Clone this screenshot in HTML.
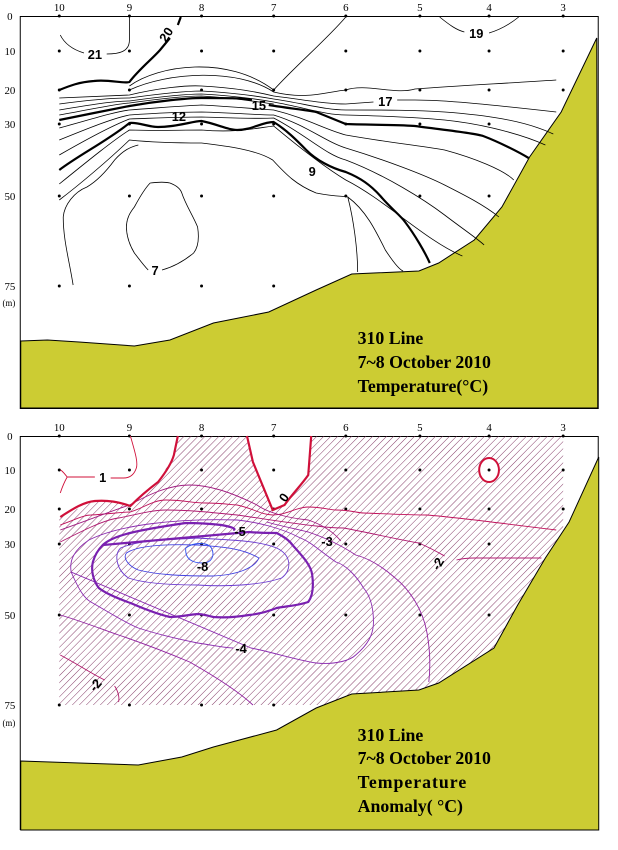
<!DOCTYPE html>
<html><head><meta charset="utf-8"><style>
body{margin:0;background:#fff;width:618px;height:850px;overflow:hidden}
svg{display:block}
.ax{font-family:"Liberation Serif",serif;font-size:11px;fill:#000}
.lb{font-family:"Liberation Sans",sans-serif;font-size:13px;font-weight:bold;fill:#000}
.tt{font-family:"Liberation Serif",serif;font-size:18px;font-weight:bold;fill:#000}
</style></head><body>
<svg width="618" height="850" viewBox="0 0 618 850" xmlns="http://www.w3.org/2000/svg">
<defs>
<pattern id="h" patternUnits="userSpaceOnUse" width="5" height="5" patternTransform="rotate(45)">
<line x1="0" y1="0" x2="0" y2="5" stroke="#7a2a5a" stroke-width="0.9"/>
</pattern>
</defs>
<g transform="scale(0.988,1)">
<!-- TOP PANEL -->
<rect x="20.5" y="16.5" width="585" height="392" fill="#fff" stroke="#000"/>
<path d="M21,341 L48,340 L80,342 L136,346 L172,340 L216,323 L272,312 L320,290 L356,274 L424,271 L444,263 L480,240 L508,207 L536,157 L568,112 L604,38 L605,408 L21,408Z" fill="#cccc33" stroke="#000"/>
<g class="ax" text-anchor="middle">
<text x="60" y="11">10</text><text x="131" y="11">9</text><text x="204" y="11">8</text><text x="277" y="11">7</text><text x="350" y="11">6</text><text x="425" y="11">5</text><text x="495" y="11">4</text><text x="570" y="11">3</text>
<text x="10" y="20">0</text><text x="10" y="55">10</text><text x="10" y="94">20</text><text x="10" y="128">30</text><text x="10" y="200">50</text><text x="10" y="290">75</text><text x="9" y="306" font-size="9">(m)</text>
</g>
<g fill="#000">
<circle cx="60" cy="16" r="1.5"/><circle cx="131" cy="16" r="1.5"/><circle cx="204" cy="16" r="1.5"/><circle cx="277" cy="16" r="1.5"/><circle cx="350" cy="16" r="1.5"/><circle cx="425" cy="16" r="1.5"/><circle cx="495" cy="16" r="1.5"/><circle cx="570" cy="16" r="1.5"/>
<circle cx="60" cy="51" r="1.5"/><circle cx="131" cy="51" r="1.5"/><circle cx="204" cy="51" r="1.5"/><circle cx="277" cy="51" r="1.5"/><circle cx="350" cy="51" r="1.5"/><circle cx="425" cy="51" r="1.5"/><circle cx="495" cy="51" r="1.5"/><circle cx="570" cy="51" r="1.5"/>
<circle cx="60" cy="90" r="1.5"/><circle cx="131" cy="90" r="1.5"/><circle cx="204" cy="90" r="1.5"/><circle cx="277" cy="90" r="1.5"/><circle cx="350" cy="90" r="1.5"/><circle cx="425" cy="90" r="1.5"/><circle cx="495" cy="90" r="1.5"/><circle cx="570" cy="90" r="1.5"/>
<circle cx="60" cy="124" r="1.5"/><circle cx="131" cy="124" r="1.5"/><circle cx="204" cy="124" r="1.5"/><circle cx="277" cy="124" r="1.5"/><circle cx="350" cy="124" r="1.5"/><circle cx="425" cy="124" r="1.5"/><circle cx="495" cy="124" r="1.5"/>
<circle cx="60" cy="196" r="1.5"/><circle cx="131" cy="196" r="1.5"/><circle cx="204" cy="196" r="1.5"/><circle cx="277" cy="196" r="1.5"/><circle cx="350" cy="196" r="1.5"/><circle cx="425" cy="196" r="1.5"/><circle cx="495" cy="196" r="1.5"/>
<circle cx="60" cy="286" r="1.5"/><circle cx="131" cy="286" r="1.5"/><circle cx="204" cy="286" r="1.5"/><circle cx="277" cy="286" r="1.5"/>
</g>
<g fill="none" stroke="#000" stroke-width="0.8">
<path d="M61,35 C66,45 75,50 85,53 M108,54 C120,54 131,52 131,40 L131,17"/>
<path d="M445,17 C455,25 462,30 470,32 M495,33 C505,30 515,25 525,17"/>
<path d="M131,86 C160,65 230,55 277,90 C300,65 330,40 350,17"/>
<path d="M131,90 C170,72 240,68 277,92 C310,100 330,92 350,90 C370,83 400,95 420,89 C460,86 500,84 563,80"/>
<path d="M60,98 L131,95 C160,88 190,85 204,86 C240,88 260,92 277,96 C310,100 330,104 350,104 L378,102 M402,100 L420,100 C450,100 490,104 563,112"/>
<path d="M60,104 C90,100 115,98 131,98 C160,94 190,91 204,91 C240,93 260,96 277,99 C310,104 330,110 350,110 C390,110 420,110 450,112 C490,115 530,120 560,134"/>
<path d="M60,110 C90,105 115,101 131,101 C160,97 190,94 204,94 C240,96 260,99 277,102 C310,108 330,115 350,115 C390,116 420,117 450,120 C490,124 530,135 552,145"/>
<path d="M60,115 C90,110 115,104 131,103 C160,99 190,96 204,96 C240,98 260,102 277,104"/>
<path d="M60,128 C90,120 115,112 131,110 C160,108 180,106 204,105 C240,107 260,109 277,110 C310,118 330,130 350,135 C390,142 420,145 450,150 C480,158 510,170 520,180"/>
<path d="M60,140 C90,128 115,118 131,115 C160,113 180,112 204,112 C240,113 260,115 277,115 C310,125 330,142 350,148 C390,160 430,175 450,185 C470,195 490,205 505,217"/>
<path d="M60,155 C90,138 115,125 131,119 C160,118 180,117 204,117 C240,118 260,119 277,118 C310,135 330,155 350,160 C390,175 430,200 450,215 C470,230 485,240 490,245"/>
<path d="M60,184 C90,160 115,140 131,130 C160,131 180,130 204,130 C240,133 260,128 277,126 C300,145 330,168 350,180 C390,200 430,240 468,256"/>
<path d="M60,200 C80,185 110,160 131,140 C160,143 190,143 204,143 C230,146 260,150 276,160 C290,175 300,185 320,193 C340,197 350,196 352,197 C358,220 362,250 362,272"/>
<path d="M74,285 C70,260 64,240 64,217 C65,205 75,192 88,187 C100,180 110,168 116,160 C125,150 132,147 140,145"/>
<path d="M352,197 C370,210 380,230 390,250 C400,265 405,270 408,271"/>
<path d="M152,183 C160,182 168,182 172,183 C180,186 183,190 184,193 C188,205 195,215 200,227 C202,240 200,248 196,253 C185,262 175,267 164,270 M150,270 C145,265 140,258 136,253 C130,243 128,235 128,227 C128,218 132,212 136,207 C142,196 147,188 152,183"/>
</g>
<g fill="none" stroke="#000" stroke-width="2.2">
<path d="M60,90 C70,86 80,82 95,81 C110,79 125,84 131,82 C140,70 155,58 162,50 L172,38 M180,25 L183,17"/>
<path d="M60,120 C80,116 110,110 131,106 C160,101 190,98 204,98 C230,98 245,98 255,100 M272,105 C290,108 310,110 320,112 C335,118 345,122 350,124 C380,125 410,125 420,126 C450,130 480,133 489,136 C505,142 525,152 535,158"/>
<path d="M60,170 C80,155 110,140 131,123 C140,122 150,127 160,127 C180,127 195,121 204,121 C220,124 230,130 240,130 C255,130 265,122 277,122 C290,130 300,140 310,150 C320,160 335,168 350,172 C365,178 375,185 385,196 C395,208 405,215 410,222 C420,235 430,252 435,263"/>
</g>
<g class="lb" text-anchor="middle">
<text x="96" y="59">21</text>
<text x="0" y="0" transform="translate(172,37) rotate(-58)">20</text>
<text x="482" y="38">19</text>
<text x="262" y="110">15</text>
<text x="390" y="106">17</text>
<text x="181" y="121">12</text>
<text x="316" y="176">9</text>
<text x="157" y="275">7</text>
</g>
<text class="tt" x="362" y="344">310 Line</text>
<text class="tt" x="362" y="368">7~8 October 2010</text>
<text class="tt" x="362" y="392">Temperature(°C)</text>

<!-- BOTTOM PANEL -->
<rect x="20.5" y="436.5" width="585" height="393" fill="#fff" stroke="#000"/>
<path d="M180,436 L250,436 L256,462 L276,510 L288,505 L312,475 L315,436 L570,436 L570,530 L552,558 L524,605 L500,648 L444,683 L424,690 L356,694 L330,705 L60,705 L60,517 L96,501 L120,502 L132,506 L160,482 L176,455Z" fill="url(#h)"/>
<ellipse cx="495" cy="470" rx="10" ry="12" fill="#fff" stroke="#d0103a" stroke-width="2"/>
<path d="M21,761 L80,763 L140,765 L184,757 L216,747 L280,730 L320,708 L356,694 L424,690 L444,683 L500,648 L524,605 L552,558 L576,522 L606,457 L606,830 L21,830Z" fill="#cccc33" stroke="#000"/>
<g class="ax" text-anchor="middle">
<text x="60" y="431">10</text><text x="131" y="431">9</text><text x="204" y="431">8</text><text x="277" y="431">7</text><text x="350" y="431">6</text><text x="425" y="431">5</text><text x="495" y="431">4</text><text x="570" y="431">3</text>
<text x="10" y="440">0</text><text x="10" y="474">10</text><text x="10" y="513">20</text><text x="10" y="548">30</text><text x="10" y="619">50</text><text x="10" y="709">75</text><text x="9" y="726" font-size="9">(m)</text>
</g>
<g fill="#000">
<circle cx="60" cy="436" r="1.5"/><circle cx="131" cy="436" r="1.5"/><circle cx="204" cy="436" r="1.5"/><circle cx="277" cy="436" r="1.5"/><circle cx="350" cy="436" r="1.5"/><circle cx="425" cy="436" r="1.5"/><circle cx="495" cy="436" r="1.5"/><circle cx="570" cy="436" r="1.5"/>
<circle cx="60" cy="470" r="1.5"/><circle cx="131" cy="470" r="1.5"/><circle cx="204" cy="470" r="1.5"/><circle cx="277" cy="470" r="1.5"/><circle cx="350" cy="470" r="1.5"/><circle cx="425" cy="470" r="1.5"/><circle cx="495" cy="470" r="1.5"/><circle cx="570" cy="470" r="1.5"/>
<circle cx="60" cy="509" r="1.5"/><circle cx="131" cy="509" r="1.5"/><circle cx="204" cy="509" r="1.5"/><circle cx="277" cy="509" r="1.5"/><circle cx="350" cy="509" r="1.5"/><circle cx="425" cy="509" r="1.5"/><circle cx="495" cy="509" r="1.5"/><circle cx="570" cy="509" r="1.5"/>
<circle cx="60" cy="544" r="1.5"/><circle cx="131" cy="544" r="1.5"/><circle cx="204" cy="544" r="1.5"/><circle cx="277" cy="544" r="1.5"/><circle cx="350" cy="544" r="1.5"/><circle cx="425" cy="544" r="1.5"/><circle cx="495" cy="544" r="1.5"/>
<circle cx="60" cy="615" r="1.5"/><circle cx="131" cy="615" r="1.5"/><circle cx="204" cy="615" r="1.5"/><circle cx="277" cy="615" r="1.5"/><circle cx="350" cy="615" r="1.5"/><circle cx="425" cy="615" r="1.5"/><circle cx="495" cy="615" r="1.5"/>
<circle cx="60" cy="705" r="1.5"/><circle cx="131" cy="705" r="1.5"/><circle cx="204" cy="705" r="1.5"/><circle cx="277" cy="705" r="1.5"/>
</g>
<g fill="none" stroke-width="0.9">
<path stroke="#d0103a" d="M132,436 C136,450 140,462 138,468 C136,474 132,478 125,478 L112,478 M96,477 L68,477 C64,472 62,470 61,470 M68,477 C64,484 62,490 61,493"/>
<path stroke="#c0105a" d="M61,525 C75,520 85,515 92,515 C110,514 125,512 132,512 C145,508 155,500 168,500 C185,500 195,503 208,503 C225,503 235,505 240,505 C255,508 265,515 276,515 C290,515 300,507 312,507 C325,507 335,510 340,510 C355,510 362,513 368,513 C395,514 415,515 432,515 C470,518 520,525 563,530"/>
<path stroke="#b01870" d="M61,542 C85,530 105,520 120,518 C140,514 155,510 168,510 C190,510 210,512 240,515 C275,520 300,524 320,526 C335,528 345,528 348,528 C375,533 405,540 424,543 C440,550 448,555 450,556 M462,560 C470,558 475,558 480,558 C510,558 530,558 548,558"/>
<path stroke="#a01a80" d="M61,530 C90,520 110,512 131,505 C150,495 170,485 192,485 C215,485 240,495 260,505 C270,512 290,518 312,520 C330,526 340,535 345,541"/>
<path stroke="#9020a0" d="M61,615 C85,622 105,630 120,635 C150,645 175,655 192,662 C215,675 240,690 256,705 M434,682 C436,665 435,648 432,632 C428,610 415,590 400,578 C385,565 372,558 360,555 C345,545 330,538 312,532 C295,528 280,525 270,522"/>
<path stroke="#8a2ab0" d="M72,572 C80,590 85,598 92,602 C110,612 125,622 140,628 C165,636 185,640 200,643 C220,646 230,648 236,648 M254,648 C275,652 300,660 320,663 C340,665 355,660 360,655 C372,645 378,635 378,622 C378,605 374,595 368,588 C360,575 350,565 340,562 C325,552 315,542 304,538 C285,528 260,522 240,520 C180,518 120,525 90,540 C75,550 70,560 72,572Z"/>
<path stroke="#b0186a" d="M61,655 C80,665 95,675 106,680 M116,686 C120,692 121,698 120,702"/>
<path stroke="#6a3ad0" d="M122,548 C140,540 170,540 200,538 C230,540 260,540 280,548 C295,555 296,570 285,578 C265,585 230,587 200,585 C170,585 145,583 130,578 C118,570 115,555 122,548Z"/>
<path stroke="#4040e0" d="M128,553 C140,545 170,544 200,545 C225,547 245,548 262,558 C258,568 240,575 215,576 C185,576 160,575 140,570 C130,566 124,558 128,553Z"/>
<path stroke="#3050f0" d="M188,548 C196,542 210,542 214,548 C218,556 214,563 205,563 C196,563 187,560 188,548Z"/>
</g>
<g fill="none" stroke-width="2.2">
<path stroke="#d0103a" d="M61,517 C75,508 85,502 96,501 C110,500 120,502 132,506 C140,498 152,488 160,482 C168,472 174,462 176,455 L180,436"/>
<path stroke="#d0103a" d="M250,436 L256,462 L276,510 L288,505 C295,495 305,485 312,475 L315,436"/>
<path stroke="#7a20b0" d="M104,545 C115,535 140,530 188,523 C205,523 215,524 224,525 C235,527 240,529 236,530 M252,532 C262,533 272,533 280,533 C290,538 294,542 296,545 C305,555 315,565 316,575 C318,590 315,598 312,602 C300,606 290,606 280,608 C270,612 262,614 252,615 C240,617 228,618 216,617 C208,615 204,614 200,614 C190,615 180,617 172,617 C155,613 142,607 132,603 C118,598 105,592 100,588 C94,580 92,570 94,562 C96,555 100,549 104,545Z"/>
</g>
<g class="lb" text-anchor="middle">
<text x="104" y="482">1</text>
<text x="0" y="0" transform="translate(291,500) rotate(-55)">0</text>
<text x="243" y="536">-5</text>
<text x="331" y="546">-3</text>
<text x="0" y="0" transform="translate(447,566) rotate(-60)">-2</text>
<text x="205" y="571">-8</text>
<text x="244" y="653">-4</text>
<text x="0" y="0" transform="translate(100,688) rotate(-50)">-2</text>
</g>
<text class="tt" x="362" y="741">310 Line</text>
<text class="tt" x="362" y="764">7~8 October 2010</text>
<text class="tt" x="362" y="788" letter-spacing="1">Temperature</text>
<text class="tt" x="362" y="812">Anomaly( °C)</text>
</g>
</svg>
</body></html>
